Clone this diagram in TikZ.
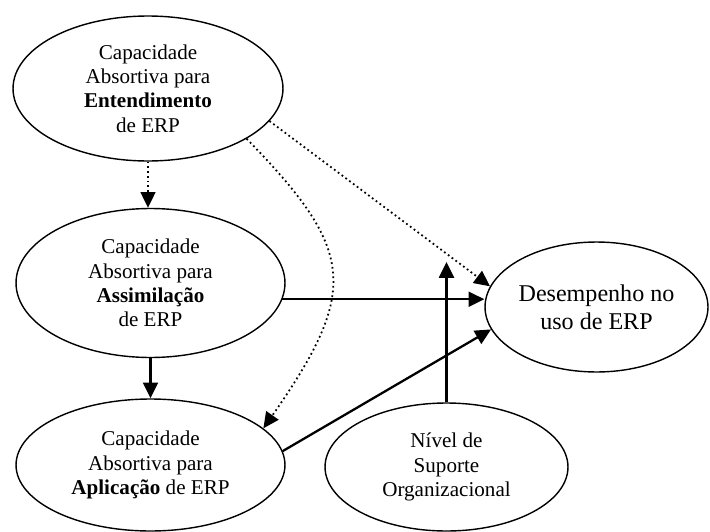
\documentclass[tikz,border=0pt]{standalone}
\usepackage{fontspec}
\setmainfont{Liberation Serif}
\usetikzlibrary{shapes.geometric,arrows.meta}

\begin{document}
\begin{tikzpicture}[x=0.02cm, y=-0.02cm,
            every node/.style = {shape=ellipse, draw, align=center,
                                 line width=0.8pt, inner sep=0pt,
                                 font=\fontsize{12}{13.9}\selectfont},
            cheia/.style = {line width=1.3pt, -{Triangle[length=9pt,width=8.5pt]}},
            pontilhada/.style = {line width=1pt, dash pattern=on 1pt off 1.7pt,
                                 -{Triangle[length=9pt,width=8.5pt]}}]
    \useasboundingbox (0,0) rectangle (710,531);
    \node[minimum width=5.4cm, minimum height=2.9cm] (entend) at (148,88.5)
        {Capacidade\\Absortiva para\\\textbf{Entendimento}\\de ERP};
    \node[minimum width=5.38cm, minimum height=2.98cm] (assim) at (150.5,283)
        {Capacidade\\Absortiva para\\\textbf{Assimilação}\\de ERP};
    \node[minimum width=5.38cm, minimum height=2.64cm] (aplic) at (150.5,465)
        {Capacidade\\Absortiva para\\\textbf{Aplicação} de ERP};
    \node[minimum width=4.46cm, minimum height=2.6cm,
          font=\fontsize{13.7}{15.9}\selectfont] (desemp) at (596.5,307)
        {Desempenho no\\uso de ERP};
    \node[minimum width=4.86cm, minimum height=2.56cm] (nivel) at (446.5,467)
        {Nível de\\Suporte\\Organizacional};
    \coordinate (moderacao) at (446.5,262);

    \draw[pontilhada] (entend.south) -- (entend.south |- assim.north);
    \draw[cheia] (assim.south) -- (assim.south |- aplic.north);
    \draw[cheia] (assim.-7) -- (assim.-7 -| desemp.west);
    \draw[cheia] (aplic.6) -- (desemp.192);
    \draw[cheia] (nivel.north) -- (moderacao);
    \draw[pontilhada] (entend.-15.6) -- (desemp.169.7);
    \draw[pontilhada] (entend.-27) .. controls (355,250) and (360,290) .. (aplic.18);
\end{tikzpicture}
\end{document}
